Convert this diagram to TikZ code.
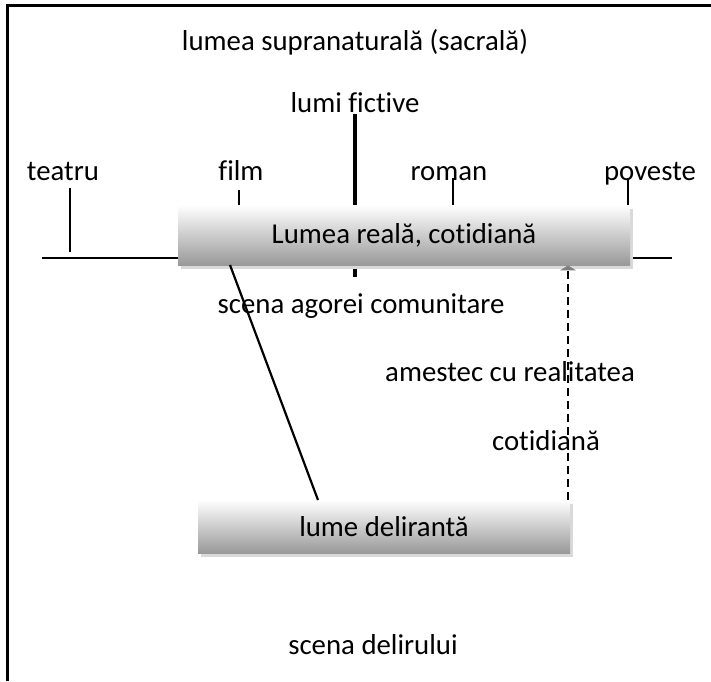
\documentclass[tikz,border=0pt]{standalone}
\usepackage{fontspec}
\setmainfont[Ligatures=CommonOff]{Carlito}
\usepackage{tikz}
\usetikzlibrary{arrows.meta,shadows}

\tikzset{
  lbl/.style={anchor=base,inner sep=0pt,font=\fontsize{14.4}{16}\selectfont},
  worldbox/.style={draw=none,top color=white,middle color=gray!22,bottom color=gray!80,
    font=\fontsize{14.4}{16}\selectfont,
    drop shadow={shadow xshift=1.5pt,shadow yshift=-2pt,fill=gray!30,opacity=1}},
}

\begin{document}
\begin{tikzpicture}[x=0.5pt,y=-0.5pt]
		\useasboundingbox (0,0) rectangle (711,681);
		% frame (left and top only)
		\draw[line width=1.5pt] (7,681)--(7,5)--(711,5);
		\node[lbl] (sacra) at (355,50) {lumea supranaturală (sacrală)};
		\node[lbl] (fictive) at (355,112) {lumi fictive};
		\node[lbl] (teatru) at (63,180) {teatru};
		\node[lbl] (film) at (241,180) {film};
		\node[lbl] (roman) at (449,180) {roman};
		\node[lbl] (poveste) at (650,180) {poveste};
		% axis and ticks
		\draw[line width=1pt] (42,258)--(672,258);
		\draw[line width=1pt] (70,188)--(70,252);
		\draw[line width=1pt] (239,190)--(239,210);
		\draw[line width=1pt] (453,178)--(453,210);
		\draw[line width=1pt] (628,178)--(628,210);
		\draw[line width=2pt] (355,114)--(355,277);
		% the two worlds
		\node[worldbox,minimum width=226pt,minimum height=30pt] (real) at (404,235) {Lumea reală, cotidiană};
		\node[worldbox,minimum width=186pt,minimum height=26.5pt] (delir) at (384,526.5) {lume delirantă};
		\node[lbl] (agora) at (361,313) {scena agorei comunitare};
		\node[lbl] (amestec) at (510,381) {amestec cu realitatea};
		\node[lbl] (cotid) at (546,450) {cotidiană};
		\node[lbl] (scena) at (373,654) {scena delirului};
		% connectors
		\coordinate (dtop) at (230,265);
		\coordinate (dbot) at (318,500);
		\coordinate (xd) at (568,0);
		\draw[line width=1.1pt] (dtop)--(dbot);
		\draw[line width=1.2pt,dash pattern=on 4pt off 2.5pt,-{Triangle[width=8pt,length=2.5pt,color=gray]}]
			(delir.north -| xd)--(real.south -| xd);
	\end{tikzpicture}
\end{document}
